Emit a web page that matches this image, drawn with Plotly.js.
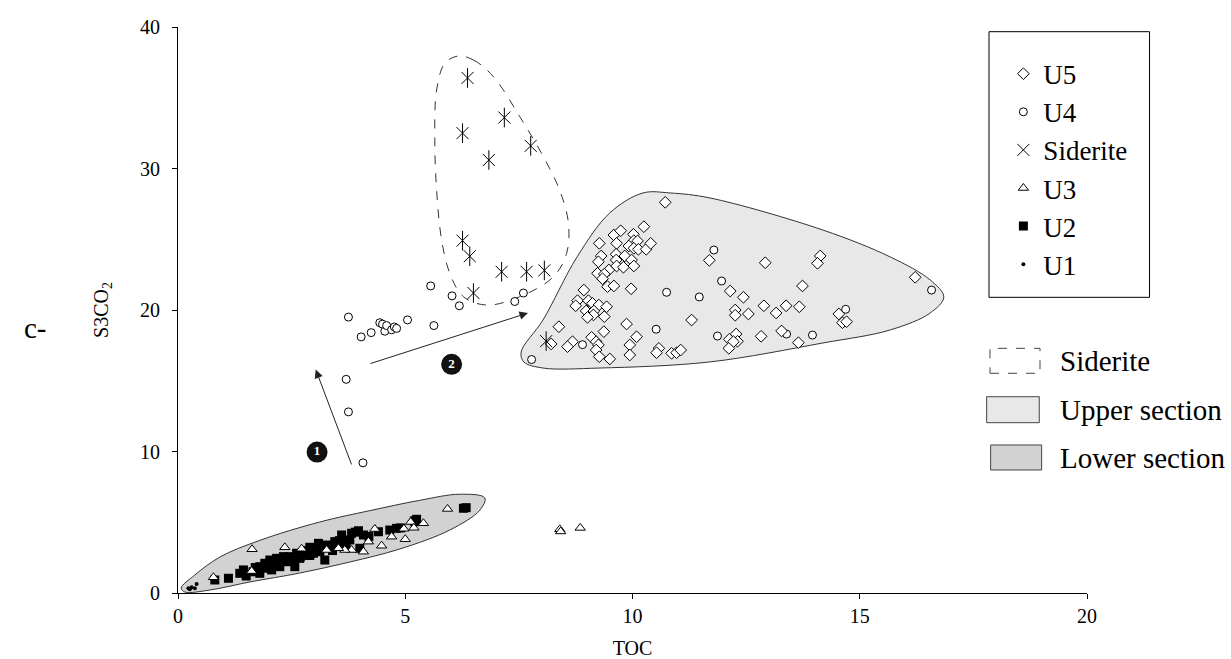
<!DOCTYPE html>
<html><head><meta charset="utf-8">
<script src="https://cdn.plot.ly/plotly-3.0.1.min.js"></script>
<style>html,body{margin:0;padding:0;background:#fff}#chart{width:1231px;height:659px}</style>
</head><body><div id="chart"></div>
<script>
// ---- data ----
const u5X = [10.72,10.25,9.59,9.74,10.02,9.27,9.65,10.03,10.11,9.92,10.03,10.13,10.3,10.4,9.31,9.64,9.83,9.25,9.64,9.98,9.48,9.65,9.8,10.03,9.23,9.38,9.34,9.45,9.59,9.97,8.93,8.79,8.75,9.03,9.12,9.26,9.43,8.98,9.15,9.14,9.01,9.38,9.87,11.3,8.38,9.37,10.09,9.1,9.2,8.68,8.57,8.21,9.25,9.94,9.2,9.27,9.5,9.94,10.58,10.53,10.86,10.97,11.06,11.69,12.92,14.13,14.07,13.74,12.15,12.44,12.26,12.26,12.55,12.89,13.16,13.38,13.67,14.54,14.62,14.71,16.22,13.28,12.83,13.65,12.28,12.13,12.31,12.22,12.12];
const u5Y = [27.61,25.89,25.3,25.6,25.35,24.71,24.71,24.9,24.88,24.52,24.36,24.29,24.29,24.71,23.82,23.94,23.82,23.41,23.53,23.53,22.83,23.11,23.02,23.11,22.59,22.54,22.21,21.65,21.7,21.5,21.41,20.66,20.3,20.66,20.47,20.35,20.23,19.93,19.93,19.65,19.48,19.53,19.01,19.29,18.82,18.47,18.11,18.07,17.76,17.76,17.41,17.6,17.53,17.53,17.17,16.7,16.54,16.82,17.29,16.98,16.94,16.98,17.17,23.51,23.34,23.82,23.3,21.7,21.34,20.9,20.0,19.63,19.72,20.3,19.79,20.3,20.23,19.72,19.1,19.17,22.31,18.52,18.14,17.69,18.3,17.93,17.79,17.76,17.29];

const u4X = [3.75,3.7,3.75,4.07,4.03,4.25,4.44,4.5,4.55,4.59,4.7,4.76,4.81,5.05,5.63,5.56,6.03,6.19,7.41,7.6,7.78,8.9,10.75,11.47,10.52,11.79,11.96,11.87,13.39,13.96,14.69,16.58];
const u4Y = [19.5,15.1,12.8,9.2,18.1,18.4,19.1,19.0,18.5,18.9,18.6,18.8,18.7,19.3,18.9,21.7,21.0,20.3,20.6,21.2,16.5,17.55,21.25,20.92,18.64,24.24,22.05,18.16,18.3,18.23,20.05,21.41];

const sidX = [6.37,7.18,6.26,7.76,6.84,6.26,6.42,7.12,7.67,8.06,6.5,8.1];
const sidY = [36.4,33.6,32.5,31.6,30.6,24.9,23.8,22.7,22.7,22.8,21.2,17.8];

const u3X = [5.93,1.63,2.35,2.72,0.78,5.12,5.4,5.19,4.97,4.7,5.0,4.48,4.33,4.19,4.08,3.82,3.67,3.53,3.27,1.62,8.4,8.42,8.85];
const u3Y = [5.94,3.09,3.23,3.13,1.11,5.02,4.93,4.61,4.54,3.98,3.8,3.34,4.52,3.63,2.92,3.04,3.04,3.16,3.04,1.55,4.5,4.35,4.6];

const u2X = [6.34,6.28,5.25,5.21,4.81,4.66,4.41,3.97,4.08,4.0,3.6,3.78,3.45,3.27,3.09,3.05,3.23,2.9,2.76,2.61,2.46,2.32,2.17,2.02,1.91,1.8,1.95,2.1,2.24,2.39,2.54,2.68,2.83,2.98,3.12,1.8,1.44,1.36,1.11,0.81,2.57,2.24,2.06,3.64,3.82,3.9,3.55,3.35,2.85,2.7,2.4,2.1,1.7,1.65,1.5,2.2,2.9,3.4,3.7,4.2,4.9,5.2];
const u2Y = [6.03,5.99,5.21,5.04,4.57,4.45,4.33,4.4,4.1,3.16,4.1,3.75,3.63,3.39,3.51,3.16,2.33,3.23,2.92,2.81,2.57,2.57,2.45,2.33,2.1,1.86,1.75,2.1,2.21,2.21,2.33,2.45,2.69,2.81,2.92,1.39,1.63,1.39,1.04,0.92,1.86,1.86,1.63,3.51,4.22,4.3,3.7,3.3,3.0,2.6,2.4,2.0,1.8,1.5,1.2,1.9,2.65,3.0,3.3,4.0,4.6,5.1];

const u1X = [0.23,0.3,0.41,0.37,0.26];
const u1Y = [0.33,0.4,0.64,0.33,0.26];

// region outlines (data units)
const upperX = [7.55,8.03,8.78,9.5,10.23,10.83,11.7,14.19,15.67,16.55,16.85,16.55,15.67,14.19,11.7,9.28,8.03,7.61];
const upperY = [17.03,19.29,23.75,26.86,28.27,28.27,27.92,25.65,23.75,22.12,20.92,19.79,18.59,17.67,16.33,15.9,15.9,16.33];
const lowerX = [6.75,6.2,5.32,4.22,3.12,1.8,0.92,0.37,0.07,0.15,0.7,1.58,2.68,3.78,4.88,5.98,6.64];
const lowerY = [6.72,6.98,6.55,5.82,5.02,3.72,2.54,1.27,0.35,0.07,0.21,0.78,1.41,2.19,3.11,4.45,5.85];
const sidAreaX = [6.17,6.5,6.94,7.52,8.04,8.4,8.59,8.55,8.26,7.52,6.79,6.28,5.98,5.8,5.69,5.65,5.69,5.87];
const sidAreaY = [37.95,37.67,36.49,33.66,30.83,28.45,26.13,24.0,22.35,20.94,20.35,20.94,22.59,24.95,28.48,32.0,35.55,37.43];

// trend arrows: [tailX, tailY, headX, headY]
const arrow1 = [3.83, 8.98, 3.03, 15.8];
const arrow2 = [4.2, 16.18, 7.7, 19.79];
const stepX = [3.06, 6.02];
const stepY = [9.96, 16.16];
const stepText = ['1', '2'];

const xTicks = [0, 5, 10, 15, 20];
const yTicks = [0, 10, 20, 30, 40];

const close = a => a.concat([a[0]]);
const FONT = "'Liberation Serif', 'Times New Roman', serif";
const OUT = '#333';

const traces = [
  {x: close(lowerX), y: close(lowerY), mode: 'lines', fill: 'toself', fillcolor: '#d2d2d2',
   line: {color: OUT, width: 1, shape: 'spline', smoothing: 1}, showlegend: false, hoverinfo: 'skip'},
  {x: close(upperX), y: close(upperY), mode: 'lines', fill: 'toself', fillcolor: '#e8e8e8',
   line: {color: OUT, width: 1, shape: 'spline', smoothing: 1}, showlegend: false, hoverinfo: 'skip'},
  {x: close(sidAreaX), y: close(sidAreaY), mode: 'lines',
   line: {color: OUT, width: 1, dash: 'dash', shape: 'spline', smoothing: 1}, showlegend: false, hoverinfo: 'skip'},
  {name: 'U2', x: u2X, y: u2Y, mode: 'markers', legendrank: 5,
   marker: {symbol: 'square', size: 9, color: '#000', line: {width: 0}}},
  {name: 'U3', x: u3X, y: u3Y, mode: 'markers', legendrank: 4,
   marker: {symbol: 'triangle-up', size: 9, color: '#fff', line: {color: '#000', width: 1}}},
  {name: 'U1', x: u1X, y: u1Y, mode: 'markers', legendrank: 6,
   marker: {symbol: 'circle', size: 4, color: '#000', line: {width: 0}}},
  {name: 'U4', x: u4X, y: u4Y, mode: 'markers', legendrank: 2,
   marker: {symbol: 'circle', size: 8, color: '#fff', line: {color: '#000', width: 1}}},
  {name: 'U5', x: u5X, y: u5Y, mode: 'markers', legendrank: 1,
   marker: {symbol: 'diamond', size: 9, color: '#fff', line: {color: '#000', width: 1}}},
  {name: 'Siderite', x: sidX, y: sidY, mode: 'markers', legendrank: 3,
   marker: {symbol: 'x-thin-open', size: 12, color: '#000', line: {color: '#000', width: 1}}},
  {name: 'Siderite', x: sidX, y: sidY, mode: 'markers', showlegend: false,
   marker: {symbol: 'line-ns-open', size: 14, color: '#000', line: {color: '#000', width: 1}}},
  {x: stepX, y: stepY, mode: 'markers+text', text: stepText, showlegend: false, hoverinfo: 'skip',
   textposition: 'middle center', textfont: {family: FONT, size: 13, color: '#fff', weight: 'bold'},
   marker: {symbol: 'circle', size: 21, color: '#111'}}
];

function arrowAnn(a) {
  return {x: a[2], y: a[3], ax: a[0], ay: a[1], xref: 'x', yref: 'y', axref: 'x', ayref: 'y',
    text: '', showarrow: true, arrowhead: 2, arrowsize: 1.7, arrowwidth: 1, arrowcolor: '#222', standoff: 0};
}

const layout = {
  width: 1231, height: 659,
  margin: {l: 178, r: 144, t: 27, b: 66},
  paper_bgcolor: '#fff', plot_bgcolor: '#fff',
  font: {family: FONT, color: '#000', size: 20},
  showlegend: true,
  legend: {x: 0.908, xanchor: 'left', y: 0.96, yanchor: 'top', bgcolor: 'rgba(0,0,0,0)',
    borderwidth: 0, font: {family: FONT, size: 27, color: '#000'}, itemclick: false},
  xaxis: {range: [0, 20], tickvals: xTicks, ticktext: xTicks.map(String), showgrid: false, zeroline: false,
    showline: true, linecolor: '#000', linewidth: 1, ticks: 'outside', ticklen: 5, tickcolor: '#000',
    tickfont: {family: FONT, size: 20}, automargin: false,
    title: {text: 'TOC', font: {family: FONT, size: 20}, standoff: 17}},
  yaxis: {range: [0, 40], tickvals: yTicks, ticktext: yTicks.map(String), showgrid: false, zeroline: false,
    showline: true, linecolor: '#000', linewidth: 1, ticks: 'outside', ticklen: 5, tickcolor: '#000',
    ticklabelstandoff: 8,
    tickfont: {family: FONT, size: 20}, automargin: false,
    title: {text: 'S3CO<sub>2</sub>', font: {family: FONT, size: 20}, standoff: 26}},
  shapes: [
    {type: 'rect', xref: 'paper', yref: 'paper', x0: 0.8922, x1: 1.0688, y0: 0.5224, y1: 0.9917,
     line: {color: '#000', width: 1}, fillcolor: 'rgba(0,0,0,0)'},
    {type: 'rect', xref: 'paper', yref: 'paper', x0: 0.8933, x1: 0.9483, y0: 0.3882, y1: 0.4323,
     line: {color: '#444', width: 1, dash: 'dash'}, fillcolor: 'rgba(0,0,0,0)'},
    {type: 'rect', xref: 'paper', yref: 'paper', x0: 0.8896, x1: 0.9475, y0: 0.3009, y1: 0.3468,
     line: {color: '#444', width: 1}, fillcolor: '#e8e8e8'},
    {type: 'rect', xref: 'paper', yref: 'paper', x0: 0.8940, x1: 0.9501, y0: 0.2173, y1: 0.2615,
     line: {color: '#444', width: 1}, fillcolor: '#d2d2d2'}
  ],
  annotations: [
    arrowAnn(arrow1), arrowAnn(arrow2),
    {xref: 'paper', yref: 'paper', x: 0.9681, y: 0.4099, xanchor: 'left', yanchor: 'middle', showarrow: false,
     text: 'Siderite', font: {family: FONT, size: 29}},
    {xref: 'paper', yref: 'paper', x: 0.9681, y: 0.3233, xanchor: 'left', yanchor: 'middle', showarrow: false,
     text: 'Upper section', font: {family: FONT, size: 29}},
    {xref: 'paper', yref: 'paper', x: 0.9681, y: 0.2385, xanchor: 'left', yanchor: 'middle', showarrow: false,
     text: 'Lower section', font: {family: FONT, size: 29}},
    {xref: 'paper', yref: 'paper', x: -0.1573, y: 0.4682, xanchor: 'center', yanchor: 'middle', showarrow: false,
     text: 'c-', font: {family: FONT, size: 29}}
  ]
};

Plotly.newPlot('chart', traces, layout, {displayModeBar: false, staticPlot: true});
</script></body></html>
